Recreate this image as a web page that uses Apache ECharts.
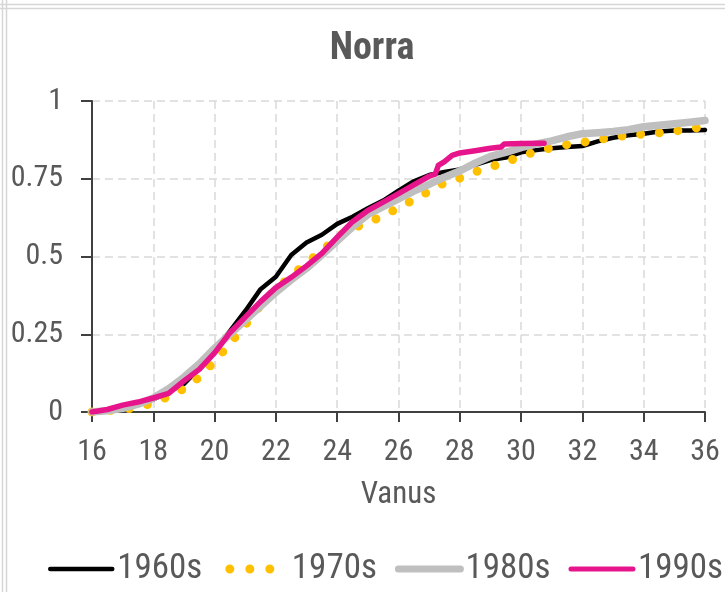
<!DOCTYPE html>
<html>
<head>
<meta charset="utf-8">
<style>
  html, body { margin: 0; padding: 0; background: #ffffff; }
  #chart { width: 725px; height: 592px; }
</style>
<script src="https://cdn.jsdelivr.net/npm/echarts@6/dist/echarts.min.js"></script>
</head>
<body>
<div id="chart"></div>
<script>
// ---- data ----
const ages = [16, 16.5, 17, 17.5, 18, 18.5, 19, 19.5, 20, 20.5, 21, 21.5, 22, 22.5, 23, 23.5, 24, 24.5, 25, 25.5,
              26, 26.5, 27, 27.5, 28, 28.5, 29, 29.5, 30, 30.5, 31, 31.5, 32, 32.5, 33, 33.5, 34, 34.5, 35, 35.5, 36];

const s1960 = [0, 0.005, 0.015, 0.025, 0.04, 0.065, 0.09, 0.14, 0.2, 0.26, 0.325, 0.395, 0.435, 0.505, 0.545, 0.57,
               0.605, 0.628, 0.655, 0.68, 0.712, 0.742, 0.762, 0.772, 0.78, 0.795, 0.81, 0.818, 0.835, 0.842, 0.848,
               0.852, 0.855, 0.87, 0.882, 0.89, 0.895, 0.902, 0.905, 0.905, 0.907];

const s1970 = [0, 0.005, 0.008, 0.015, 0.03, 0.05, 0.075, 0.112, 0.163, 0.22, 0.28, 0.343, 0.395, 0.437, 0.48, 0.517,
               0.563, 0.59, 0.61, 0.63, 0.657, 0.683, 0.71, 0.737, 0.752, 0.772, 0.788, 0.804, 0.822, 0.838, 0.85,
               0.86, 0.867, 0.875, 0.884, 0.89, 0.894, 0.898, 0.903, 0.91, 0.918];

const s1980 = [0, 0.004, 0.012, 0.025, 0.045, 0.075, 0.112, 0.155, 0.205, 0.25, 0.295, 0.34, 0.385, 0.425, 0.462, 0.505,
               0.55, 0.595, 0.635, 0.66, 0.685, 0.71, 0.732, 0.755, 0.775, 0.8, 0.822, 0.835, 0.85, 0.862, 0.872,
               0.885, 0.895, 0.898, 0.902, 0.908, 0.917, 0.922, 0.927, 0.932, 0.937];

// the 1990s curve stops at about 30.75 and has a visible jump near 27.2
const ages1990 = [16, 16.5, 17, 17.5, 18, 18.5, 19, 19.5, 20, 20.5, 21, 21.5, 22, 22.5, 23, 23.5, 24, 24.5, 25, 25.5,
                  26, 26.5, 27, 27.2, 27.3, 27.5, 27.75, 28, 28.5, 29, 29.35, 29.45, 30, 30.75];
const s1990 = [0, 0.008, 0.022, 0.032, 0.045, 0.06, 0.1, 0.137, 0.19, 0.255, 0.305, 0.355, 0.4, 0.433, 0.47, 0.51,
               0.562, 0.612, 0.648, 0.675, 0.702, 0.73, 0.758, 0.765, 0.793, 0.805, 0.825, 0.833, 0.84, 0.848, 0.852,
               0.862, 0.863, 0.864];

const seriesNames = ['1960s', '1970s', '1980s', '1990s'];
const titleText = 'Norra';
const xAxisName = 'Vanus';

// ---- chart ----
const FONT = "Roboto, 'Liberation Sans', sans-serif";
const STRETCH = 'semi-condensed';   // goes in front of the font shorthand
const TEXT = '#595959';
const AXIS = '#404040';

function pairs(xs, vals) {
  const out = [];
  for (let i = 0; i < xs.length; i++) if (vals[i] !== null) out.push([xs[i], vals[i]]);
  return out;
}

const chart = echarts.init(document.getElementById('chart'), null, { renderer: 'canvas' });

const hiddenSym = { color: 'rgba(0,0,0,0)', opacity: 0, borderWidth: 0 };

const option = {
  animation: false,
  backgroundColor: '#ffffff',
  textStyle: { fontFamily: FONT, fontStyle: STRETCH },
  title: {
    text: titleText,
    left: 367, top: 25, textAlign: 'center',
    textStyle: { fontFamily: FONT, fontStyle: STRETCH, fontSize: 38, fontWeight: 'bold', color: TEXT }
  },
  graphic: [
    { type: 'line', shape: { x1: 2.5, y1: 0, x2: 2.5, y2: 592 }, style: { stroke: '#d6d6d6', lineWidth: 1.5 }, silent: true },
    { type: 'line', shape: { x1: 6.5, y1: 0, x2: 6.5, y2: 592 }, style: { stroke: '#d6d6d6', lineWidth: 1.5 }, silent: true },
    { type: 'line', shape: { x1: 0, y1: 4.5, x2: 725, y2: 4.5 }, style: { stroke: '#d6d6d6', lineWidth: 1.5 }, silent: true },
    { type: 'line', shape: { x1: 0, y1: 8.5, x2: 725, y2: 8.5 }, style: { stroke: '#d6d6d6', lineWidth: 1.5 }, silent: true }
  ],
  grid: { left: 92, right: 20, top: 101, bottom: 180, containLabel: false },
  legend: {
    left: 48, top: 551, width: 710, padding: 0,
    itemWidth: 62, itemHeight: 14, itemGap: 18,
    textStyle: { fontFamily: FONT, fontStyle: STRETCH, fontSize: 35, color: TEXT, lineHeight: 36 },
    data: [
      { name: '1960s', itemStyle: hiddenSym, lineStyle: { width: 4.5, color: '#000000' } },
      { name: '1970s', itemStyle: hiddenSym, lineStyle: { width: 9, color: '#FFC000', type: [0, 20], dashOffset: -5, cap: 'round' } },
      { name: '1980s', itemStyle: hiddenSym, lineStyle: { width: 7, color: '#BFBFBF' } },
      { name: '1990s', itemStyle: hiddenSym, lineStyle: { width: 5, color: '#E7158C' } }
    ]
  },
  xAxis: {
    type: 'value', min: 16, max: 36, interval: 2,
    name: xAxisName, nameLocation: 'middle', nameGap: 68,
    nameTextStyle: { fontFamily: FONT, fontStyle: STRETCH, fontSize: 31, color: TEXT },
    axisLine: { show: true, lineStyle: { color: AXIS, width: 2 } },
    axisTick: { show: true, inside: false, length: 10, lineStyle: { color: AXIS, width: 2 } },
    axisLabel: { fontFamily: FONT, fontStyle: STRETCH, fontSize: 30, color: TEXT, margin: 25 },
    splitLine: { show: true, lineStyle: { color: '#d9d9d9', width: 1.5, type: [8, 5] } }
  },
  yAxis: {
    type: 'value', min: 0, max: 1, interval: 0.25,
    axisLine: { show: true, lineStyle: { color: AXIS, width: 2 } },
    axisTick: { show: true, inside: false, length: 11, lineStyle: { color: AXIS, width: 2 } },
    axisLabel: { fontFamily: FONT, fontStyle: STRETCH, fontSize: 30, color: TEXT, margin: 29 },
    splitLine: { show: true, lineStyle: { color: '#d9d9d9', width: 1.5, type: [8, 5] } }
  },
  series: [
    { name: seriesNames[0], type: 'line', data: pairs(ages, s1960), symbol: 'none', smooth: false,
      lineStyle: { color: '#000000', width: 4.5, cap: 'round', join: 'round' }, itemStyle: { color: '#000000' } },
    { name: seriesNames[1], type: 'line', data: pairs(ages, s1970), symbol: 'none', smooth: false,
      lineStyle: { color: '#FFC000', width: 9, type: [0, 18.7], cap: 'round', join: 'round' }, itemStyle: { color: '#FFC000' } },
    { name: seriesNames[2], type: 'line', data: pairs(ages, s1980), symbol: 'none', smooth: false,
      lineStyle: { color: '#BFBFBF', width: 7.5, cap: 'round', join: 'round' }, itemStyle: { color: '#BFBFBF' } },
    { name: seriesNames[3], type: 'line', data: pairs(ages1990, s1990), symbol: 'none', smooth: false,
      lineStyle: { color: '#E7158C', width: 5.5, cap: 'round', join: 'round' }, itemStyle: { color: '#E7158C' } }
  ]
};

chart.setOption(option);
</script>
</body>
</html>
